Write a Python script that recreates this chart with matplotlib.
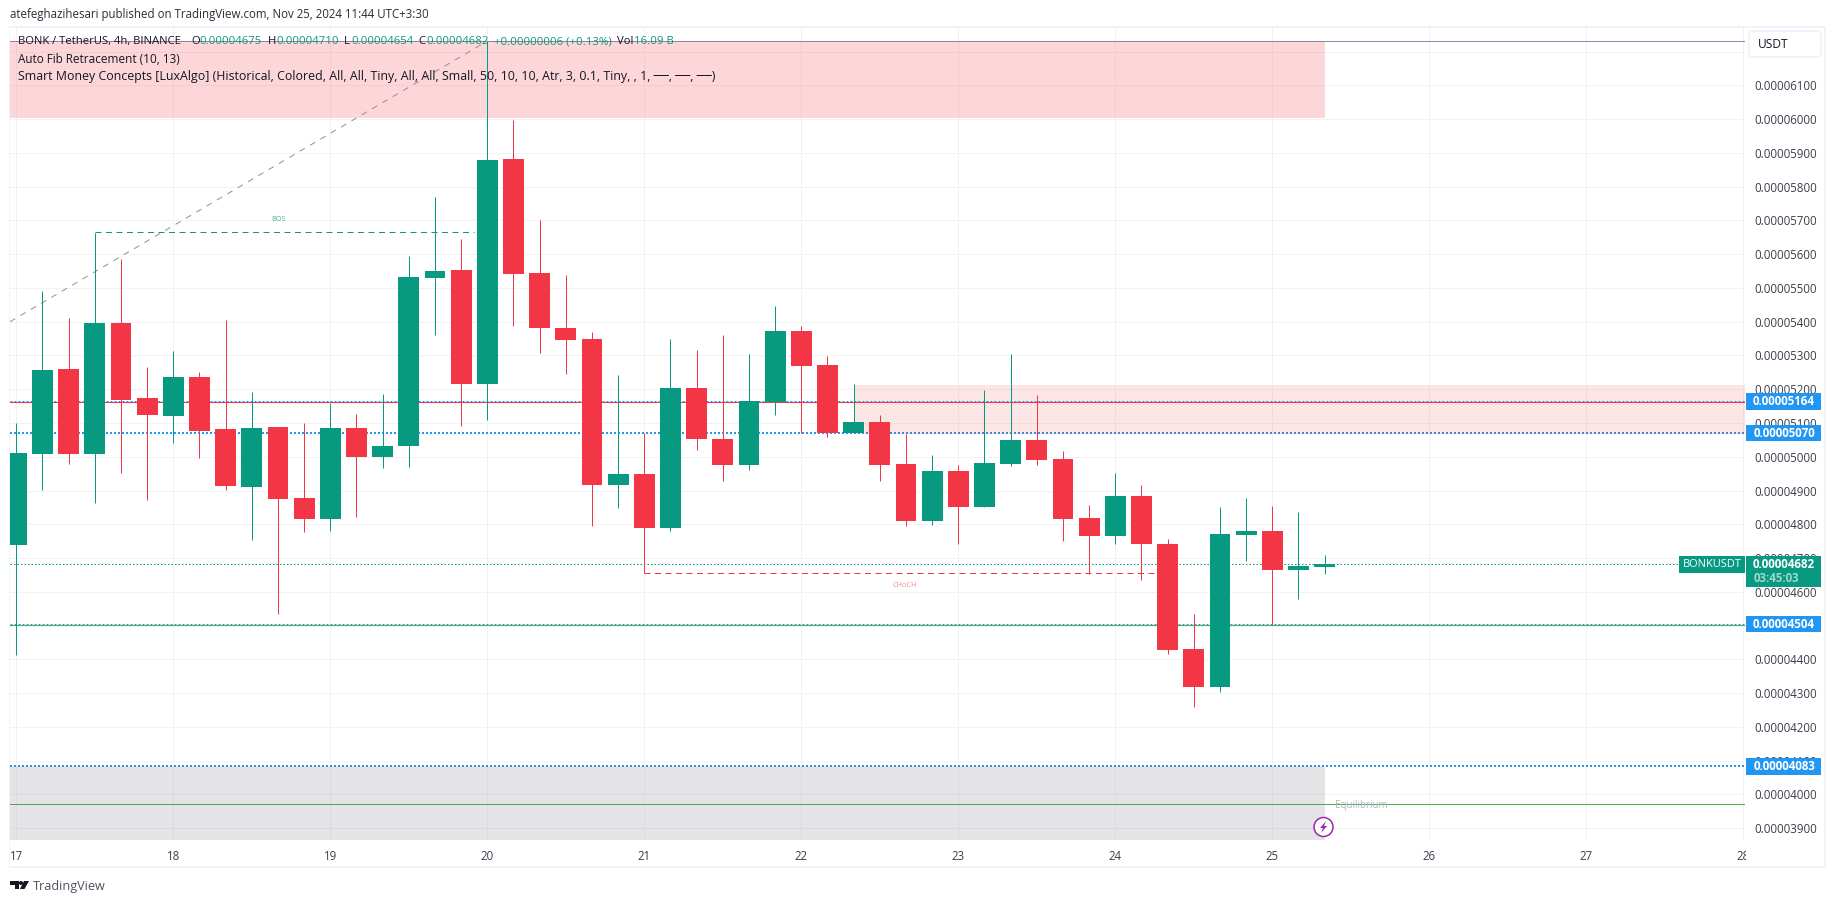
import matplotlib
matplotlib.use("Agg")
import matplotlib.pyplot as plt
from matplotlib.patches import Rectangle, FancyBboxPatch, Circle, Polygon
from matplotlib.transforms import Bbox

# Prices in units of 1e-8 USDT, one candle every 4h from Nov 17 00:00
opens = [4738, 5009, 5261, 5009, 5397, 5175, 5122, 5237, 5083, 4909, 5089, 4879, 4817, 5086, 5000, 5033, 5530,
         5554, 5216, 5882, 5545, 5382, 5350, 4915, 4948, 4788, 5205, 5054, 4977, 5161, 5371, 5273, 5069, 5102,
         4980, 4809, 4957, 4850, 4980, 5051, 4992, 4818, 4764, 4883, 4742, 4431, 4319, 4768, 4780, 4665, 4675]
highs = [5101, 5492, 5412, 5663, 5586, 5267, 5314, 5252, 5406, 5193, 5089, 5101, 5160, 5128, 5187, 5595, 5769,
         5645, 6230, 5997, 5701, 5539, 5370, 5243, 5071, 5350, 5315, 5362, 5303, 5445, 5386, 5297, 5214, 5125,
         5066, 5004, 4977, 5199, 5303, 5184, 5016, 4856, 4951, 4915, 4757, 4535, 4851, 4878, 4854, 4836, 4710]
lows = [4413, 4903, 4980, 4864, 4953, 4873, 5042, 4997, 4903, 4755, 4533, 4776, 4779, 4823, 4968, 4971, 5361,
        5092, 5110, 5388, 5307, 5246, 4796, 4847, 4657, 4779, 5019, 4927, 4960, 5125, 5071, 5060, 5069, 4927,
        4794, 4797, 4741, 4850, 4974, 4977, 4752, 4652, 4741, 4634, 4416, 4260, 4304, 4692, 4502, 4579, 4654]
closes = [5012, 5258, 5009, 5397, 5169, 5125, 5237, 5077, 4912, 5086, 4876, 4817, 5086, 5000, 5033, 5533, 5551,
          5216, 5879, 5542, 5382, 5347, 4915, 4948, 4788, 5205, 5054, 4977, 5165, 5371, 5270, 5069, 5102, 4977,
          4809, 4957, 4850, 4983, 5051, 4989, 4815, 4764, 4883, 4741, 4428, 4319, 4771, 4780, 4665, 4677, 4682]

day_labels = ["17", "18", "19", "20", "21", "22", "23", "24", "25", "26", "27", "28"]
bars_per_day = 6
price_ticks = list(range(3900, 6300, 100))
unlabelled_tick = 6200

line_5164_blue, line_5164_red = 5165, 5163
line_5070, line_4504_blue, line_4504_green, line_4083 = 5070, 4505, 4503, 4083
equilibrium, last_price = 3971, 4681
top_line = 6231
supply_zone = (6003, 6231)
mid_zone = (5067, 5212)
demand_zone = (3700, 4083)
bos_level, bos_start, bos_end = 5665, 3, 17.5
choch_level, choch_start, choch_end = 4657, 24, 43.5
fib_x, fib_y = [-0.24, 18], [5400, 6231]
zone_end_bar = 50
mid_zone_start = 32

GREEN, RED, BLUE = "#089981", "#F23645", "#2196F3"
GRID = "#F1F2F5"
FRAME = "#F0F3FA"
TEXT = "#131722"
FONT = ["Open Sans", "DejaVu Sans"]
plt.rcParams["font.family"] = FONT
PXW = 0.72  # one pixel in points at 100 dpi

W, H = 1835, 903
fig = plt.figure(figsize=((W + 0.01) / 100, (H + 0.01) / 100), dpi=100, facecolor="white")
PL, PR, PT, PB = 10, 1745, 28, 840
ax = fig.add_axes([PL / W, 1 - PB / H, (PR - PL) / W, (PB - PT) / H])
PX_BAR = 157 / bars_per_day
X0 = 16.3
ax.set_xlim((PL - X0) / PX_BAR, (PR - X0) / PX_BAR)
PX_PRICE = 0.3377
ax.set_ylim(6100 - (PB - 85.3) / PX_PRICE, 6100 + (85.3 - PT) / PX_PRICE)
for s in ax.spines.values():
    s.set_visible(False)
ax.set_axisbelow(True)
ax.grid(True, color=GRID, lw=PXW)
ax.set_yticks(price_ticks)
ax.set_yticklabels(["" if p == unlabelled_tick else f"{p * 1e-8:.8f}" for p in price_ticks])
ax.yaxis.tick_right()
ax.tick_params(axis="y", length=0, pad=6.4, labelsize=8.3, labelcolor="#3a3e4a")
ax.set_xticks([i * bars_per_day for i in range(len(day_labels))])
ax.set_xticklabels(day_labels)
ax.tick_params(axis="x", length=0, pad=7.5, labelsize=8.3, labelcolor="#3a3e4a")
clip = Bbox([[0, 0], [PR + 1, H]])
for lab in ax.get_xticklabels():
    lab.set_clip_box(clip)
    lab.set_clip_on(True)

kw = dict(zorder=1.5)
ax.axhline(line_5070, color=BLUE, lw=2 * PXW, ls=(0, (1, 1.0)), **kw)
ax.axhline(line_5164_blue, color=BLUE, lw=PXW, ls=(0, (2, 2)), **kw)
ax.axhline(line_4504_blue, color=BLUE, lw=PXW, ls=(0, (2, 2)), **kw)
ax.axhline(line_4083, color=BLUE, lw=2 * PXW, ls=(0, (1, 1.0)), **kw)
ax.axhline(line_5164_red, color=RED, lw=PXW, **kw)
ax.axhline(line_4504_green, color="#4CAF50", lw=PXW, **kw)
ax.axhline(equilibrium, color="#4CAF50", lw=PXW, **kw)
ax.axhline(top_line, color="#8A90AB", lw=PXW, **kw)
ax.axhline(last_price, color=GREEN, lw=PXW, ls=(0, (1.5, 2)), **kw)

x_left = ax.get_xlim()[0]
ax.add_patch(Rectangle((x_left, supply_zone[0]), zone_end_bar - x_left, supply_zone[1] - supply_zone[0],
                       fc=RED, alpha=0.2, ec="none", zorder=1.6))
ax.add_patch(Rectangle((mid_zone_start, mid_zone[0]), ax.get_xlim()[1] - mid_zone_start, mid_zone[1] - mid_zone[0],
                       fc=RED, alpha=0.13, ec="none", zorder=1.6))
ax.add_patch(Rectangle((x_left, demand_zone[0]), zone_end_bar - x_left, demand_zone[1] - demand_zone[0],
                       fc="#787B86", alpha=0.2, ec="none", zorder=1.6))

ax.plot(fib_x, fib_y, color="#8F929C", lw=PXW, ls=(0, (6, 6)), zorder=1.7)
ax.plot([bos_start, bos_end], [bos_level, bos_level], color=GREEN, lw=PXW, ls=(0, (6, 4.5)), zorder=1.7)
ax.plot([choch_start, choch_end], [choch_level, choch_level], color=RED, lw=PXW, ls=(0, (6, 4.5)), zorder=1.7)

for i, (o, h, l, c) in enumerate(zip(opens, highs, lows, closes)):
    col = GREEN if c >= o else RED
    ax.vlines(i, l, h, color=col, lw=PXW, zorder=2)
    ax.bar(i, abs(c - o), bottom=min(o, c), width=0.80, color=col, lw=0, zorder=2.1)

# Chrome and labels in pixel coordinates
ov = fig.add_axes([0, 0, 1, 1], zorder=5)
ov.set_xlim(0, W)
ov.set_ylim(H, 0)
ov.axis("off")
ov.patch.set_alpha(0)


def py(price):
    return 85.3 + (6100 - price) * PX_PRICE


def txt(x, y, s, size=8.3, color=TEXT, ha="left", **k):
    return ov.text(x, y, s, fontsize=size, color=color, ha=ha, va="center", **k)


# frame
for (x0, y0, w, h) in [(8.5, 26, 1.8, 842), (1824, 26, 1.8, 842), (8.5, 26, 1817, 1.8), (8.5, 866.2, 1817, 1.8)]:
    ov.add_patch(Rectangle((x0, y0), w, h, fc=FRAME, ec="none"))

txt(10, 14.7, "atefeghazihesari published on TradingView.com, Nov 25, 2024 11:44 UTC+3:30", size=8.3, color="#2a2e39")

VAL = GREEN
txt(18, 41.5, "BONK / TetherUS, 4h, BINANCE", size=8.1)
for x, s in [(191, "O"), (268, "H"), (344, "L"), (418, "C"), (617, "Vol")]:
    txt(x, 41.5, s, size=8.1)
for x, s in [(199.5, "0.00004675"), (276, "0.00004710"), (351, "0.00004654"), (426.5, "0.00004682"),
             (494, "+0.00000006 (+0.13%)"), (634, "16.09 B")]:
    txt(x, 41.5, s, size=8.2, color=VAL)
txt(18, 59, "Auto Fib Retracement (10, 13)", size=8.5)
txt(18, 76, "Smart Money Concepts [LuxAlgo] (Historical, Colored, All, All, Tiny, All, All, Small, 50, 10, 10, "
            "Atr, 3, 0.1, Tiny, , 1, ──, ──, ──)", size=8.9)

txt(278, 219.7, "BOS", size=5.2, color=GREEN, ha="center", alpha=0.75)
txt(905, 585.7, "CHoCH", size=5.2, color=RED, ha="center", alpha=0.6)
txt(1335, 805, "Equilibrium", size=7.0, color="#B2B5BE")

# USDT box
ov.add_patch(FancyBboxPatch((1751, 33), 68, 22, boxstyle="round,pad=2,rounding_size=4", fc="white", ec=FRAME, lw=1.4))
txt(1758, 44.5, "USDT", size=8.6)

# price axis labels
for price, shown in [(line_5164_red + 1, "0.00005164"), (line_5070, "0.00005070"), (4504, "0.00004504"),
                     (line_4083, "0.00004083")]:
    y = py(price)
    ov.add_patch(Rectangle((1746, y - 8.2), 75, 16.4, fc=BLUE, ec="none"))
    txt(1815, y + 0.2, shown, size=8.3, color="white", ha="right", fontweight="bold")

ylast = py(last_price)
ov.add_patch(Rectangle((1746, ylast - 8.2), 75, 30.7, fc=GREEN, ec="none"))
txt(1815, ylast + 0.2, "0.00004682", size=8.3, color="white", ha="right", fontweight="bold")
txt(1754, ylast + 14.4, "03:45:03", size=8.3, color="#9FD8CD", fontweight="bold")
ov.add_patch(Rectangle((1679, ylast - 8.2), 66, 16.4, fc=GREEN, ec="none"))
txt(1712, ylast + 0.2, "BONKUSDT", size=7.9, color="white", ha="center")

# bolt icon
ov.add_patch(Circle((1323.5, 827), 9.5, fc="white", ec="#9C27B0", lw=1.1))
ov.add_patch(Polygon([(1326, 821), (1320, 828), (1323, 828), (1321, 833), (1327, 826), (1324, 826)],
                     fc="#9C27B0", ec="none"))

# footer
ov.add_patch(Polygon([(10, 881), (19, 881), (19, 889), (15, 889), (15, 885), (10, 885)], fc="#131722", ec="none"))
ov.add_patch(Circle((21, 883), 2, fc="#131722", ec="none"))
ov.add_patch(Polygon([(24, 881), (29, 881), (24.5, 889), (20, 889)], fc="#131722", ec="none"))
txt(33, 886, "TradingView", size=9.1, color="#50535E")

fig.savefig("out.png", dpi=100)
